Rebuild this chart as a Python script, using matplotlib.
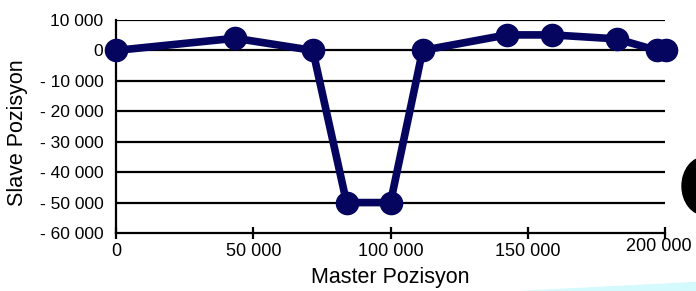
import matplotlib
matplotlib.use("Agg")
import matplotlib.pyplot as plt
import matplotlib.transforms as mtransforms
from matplotlib.patches import Ellipse, Polygon

# data
master = [0, 43400, 71700, 84000, 100000, 111700, 142300, 159000, 182400, 197000, 200500]
slave = [0, 4000, 0, -50000, -50000, 0, 5100, 5100, 3800, 0, 0]

y_ticks = [10000, 0, -10000, -20000, -30000, -40000, -50000, -60000]
x_ticks = [0, 50000, 100000, 150000, 200000]


def fmt(v):
    s = f"{abs(v):,}".replace(",", " ")
    return "- " + s if v < 0 else s


plt.rcParams['font.family'] = ['Liberation Sans', 'DejaVu Sans']

fig = plt.figure(figsize=(6.96, 2.91), dpi=100)
ax = fig.add_axes([116 / 696, 1 - 233 / 291, 549 / 696, 213 / 291])

navy = '#05055f'
ax.plot(master, slave, '-o', color=navy, lw=5.5, ms=16, clip_on=False, zorder=5)

ax.set_xlim(0, 200000)
ax.set_ylim(-60000, 10000)
ax.set_yticks(y_ticks)
ax.set_yticklabels([fmt(v) for v in y_ticks])
ax.set_xticks(x_ticks)
ax.set_xticklabels([fmt(v) for v in x_ticks])

for y in y_ticks[:-1]:
    ax.axhline(y, color='black', lw=1.6, zorder=1)

for side in ['top', 'right']:
    ax.spines[side].set_visible(False)
ax.spines['left'].set_linewidth(1.6)
ax.spines['bottom'].set_linewidth(1.6)

ax.tick_params(axis='y', length=0, pad=9, labelsize=12.5)
ax.tick_params(axis='x', direction='inout', length=8, width=1.6, pad=3, labelsize=13)

# last x label sits a little left and higher, so it stays inside the picture
last = ax.get_xticklabels()[-1]
last.set_transform(last.get_transform() +
                   mtransforms.ScaledTranslation(-6 / 100, 5 / 100, fig.dpi_scale_trans))

ax.set_xlabel('Master Pozisyon', fontsize=15.5, labelpad=5)
ax.set_ylabel('Slave Pozisyon', fontsize=15.5, labelpad=0)
ax.yaxis.set_label_coords(-0.16, 0.47)

# decorative bits at the right and bottom edge
fig.patches.append(Ellipse((705 / 696, 1 - 186 / 291), 46 / 696, 58 / 291,
                           transform=fig.transFigure, color='black', zorder=0))
fig.patches.append(Polygon([(520 / 696, 0), (696 / 696, 0), (696 / 696, 9 / 291)],
                           closed=True, transform=fig.transFigure,
                           color='#d4fafd', zorder=0))

fig.savefig('out.png', dpi=100)
